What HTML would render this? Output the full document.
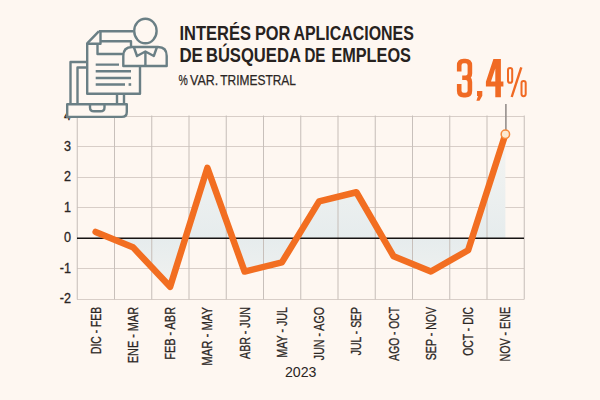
<!DOCTYPE html>
<html><head><meta charset="utf-8"><style>
html,body{margin:0;padding:0;background:#FEF7F1;}
svg{display:block;font-family:"Liberation Sans",sans-serif;}
</style></head><body>
<svg width="600" height="400" viewBox="0 0 600 400">
<rect width="600" height="400" fill="#FEF7F1"/>
<g stroke="#D8CEC8" stroke-width="1"><line x1="77" y1="116.5" x2="524" y2="116.5" /><line x1="77" y1="146.5" x2="524" y2="146.5" /><line x1="77" y1="177.5" x2="524" y2="177.5" /><line x1="77" y1="207.5" x2="524" y2="207.5" /><line x1="77" y1="268.5" x2="524" y2="268.5" /><line x1="77" y1="299.5" x2="524" y2="299.5" /></g>
<defs><linearGradient id="gf" gradientUnits="userSpaceOnUse" x1="0" y1="116" x2="0" y2="299">
<stop offset="0" stop-color="#F7F6F3"/><stop offset="0.667" stop-color="#E6ECED"/><stop offset="1" stop-color="#F3F3F0"/></linearGradient></defs>
<path d="M95.62 238 L95.62 231.9 L132.88 247.15 L170.12 286.8 L207.38 167.85 L244.62 271.55 L281.88 262.4 L319.12 201.4 L356.38 192.25 L393.62 256.3 L430.88 271.55 L468.12 250.2 L505.38 134.3 L505.38 238 Z" fill="url(#gf)"/>
<g stroke="#C8C0BB" stroke-width="1.05"><line x1="77.25" y1="115.5" x2="77.25" y2="299.5" /><line x1="114.5" y1="115.5" x2="114.5" y2="299.5" /><line x1="151.75" y1="115.5" x2="151.75" y2="299.5" /><line x1="189" y1="115.5" x2="189" y2="299.5" /><line x1="226.25" y1="115.5" x2="226.25" y2="299.5" /><line x1="263.5" y1="115.5" x2="263.5" y2="299.5" /><line x1="300.75" y1="115.5" x2="300.75" y2="299.5" /><line x1="338" y1="115.5" x2="338" y2="299.5" /><line x1="375.25" y1="115.5" x2="375.25" y2="299.5" /><line x1="412.5" y1="115.5" x2="412.5" y2="299.5" /><line x1="449.75" y1="115.5" x2="449.75" y2="299.5" /><line x1="487" y1="115.5" x2="487" y2="299.5" /><line x1="524.25" y1="115.5" x2="524.25" y2="299.5" /></g>
<line x1="77" y1="238.25" x2="524" y2="238.25" stroke="#161312" stroke-width="1.5"/>
<g font-size="14" fill="#2B2624" stroke="#2B2624" stroke-width="0.3"><text transform="translate(71,120) scale(0.9,1)" text-anchor="end">4</text><text transform="translate(71,150.5) scale(0.9,1)" text-anchor="end">3</text><text transform="translate(71,181) scale(0.9,1)" text-anchor="end">2</text><text transform="translate(71,211.5) scale(0.9,1)" text-anchor="end">1</text><text transform="translate(71,242) scale(0.9,1)" text-anchor="end">0</text><text transform="translate(71,272.5) scale(0.9,1)" text-anchor="end">-1</text><text transform="translate(71,303) scale(0.9,1)" text-anchor="end">-2</text></g>
<g font-size="14" fill="#2B2624" stroke="#2B2624" stroke-width="0.3"><text transform="translate(100.62,307) rotate(-90)" text-anchor="end" textLength="46.95" lengthAdjust="spacingAndGlyphs">DIC - FEB</text><text transform="translate(137.88,307) rotate(-90)" text-anchor="end" textLength="56.2" lengthAdjust="spacingAndGlyphs">ENE - MAR</text><text transform="translate(175.12,307) rotate(-90)" text-anchor="end" textLength="52.7" lengthAdjust="spacingAndGlyphs">FEB - ABR</text><text transform="translate(212.38,307) rotate(-90)" text-anchor="end" textLength="58.7" lengthAdjust="spacingAndGlyphs">MAR - MAY</text><text transform="translate(249.62,307) rotate(-90)" text-anchor="end" textLength="51.95" lengthAdjust="spacingAndGlyphs">ABR - JUN</text><text transform="translate(286.88,307) rotate(-90)" text-anchor="end" textLength="50.7" lengthAdjust="spacingAndGlyphs">MAY - JUL</text><text transform="translate(324.12,307) rotate(-90)" text-anchor="end" textLength="53.2" lengthAdjust="spacingAndGlyphs">JUN - AGO</text><text transform="translate(361.38,307) rotate(-90)" text-anchor="end" textLength="48.2" lengthAdjust="spacingAndGlyphs">JUL - SEP</text><text transform="translate(398.62,307) rotate(-90)" text-anchor="end" textLength="53.7" lengthAdjust="spacingAndGlyphs">AGO - OCT</text><text transform="translate(435.88,307) rotate(-90)" text-anchor="end" textLength="53.2" lengthAdjust="spacingAndGlyphs">SEP - NOV</text><text transform="translate(473.12,307) rotate(-90)" text-anchor="end" textLength="48.7" lengthAdjust="spacingAndGlyphs">OCT - DIC</text><text transform="translate(510.38,307) rotate(-90)" text-anchor="end" textLength="54.45" lengthAdjust="spacingAndGlyphs">NOV - ENE</text></g>
<text x="285" y="377" font-size="14" fill="#2B2624" textLength="31.5" lengthAdjust="spacingAndGlyphs">2023</text>
<!-- icon -->
<g fill="none" stroke="#6A7F85" stroke-width="2.4" stroke-linejoin="round">
  <path d="M70.5 104 V62 H87"/>
  <path d="M77.5 103 V67.5 H87"/>
  <path d="M117 94 V103 M124 94 V103"/>
  <path d="M67.2 104.2 H126.8 V111.9 Q126.8 116.9 121.8 116.9 H67.2 Z" fill="#FEF7F1"/>
  <path d="M90 104.2 V107.5 Q90 111.3 94 111.3 H100.5 Q104.5 111.3 104.5 107.5 V104.2"/>
  <path d="M98.8 31.3 H133 M98.8 31.3 L87.2 43.3 V93.8 H140 V66"/>
  <path d="M100.5 31.3 V43.8 H87.5"/>
  <path d="M100.5 41.3 H131 V46"/>
  <path d="M97.5 44 V54 H123"/>
  <path d="M95.7 64.6 H119 M95.7 71.3 H131 M95.7 78 H131 M95.7 84.5 H125"/><path d="M128.6 83.2 H131.2 V85.8 H128.6 Z" fill="#6A7F85" stroke="none"/>
  <ellipse cx="145.4" cy="31" rx="11.2" ry="12.3" fill="#FEF7F1"/>
  <path d="M123.3 66 V56 Q123.3 47 132 47 H158 Q166.7 47 166.7 56 V66 Z" fill="#FEF7F1"/>
  <path d="M134 47.5 L137 56 L145.4 51.5 L153.8 56 L156.8 47.5 M145.4 53 V66"/>
</g>
<!-- line -->
<path d="M95.62 231.9 L132.88 247.15 L170.12 286.8 L207.38 167.85 L244.62 271.55 L281.88 262.4 L319.12 201.4 L356.38 192.25 L393.62 256.3 L430.88 271.55 L468.12 250.2 L505.38 134.3" fill="none" stroke="#F26E21" stroke-width="6.5" stroke-linejoin="round" stroke-linecap="round"/>
<line x1="505.9" y1="104" x2="505.9" y2="131" stroke="#8E8885" stroke-width="1.5"/>
<circle cx="505.38" cy="134.3" r="4.2" fill="#FCEAD2" stroke="#F58A3C" stroke-width="1.5"/>
<!-- title -->
<g font-size="19.6" font-weight="bold" fill="#272220"><text x="179.4" y="39.75" textLength="71.5" lengthAdjust="spacingAndGlyphs">INTERÉS</text><text x="254.9" y="39.75" textLength="35.5" lengthAdjust="spacingAndGlyphs">POR</text><text x="293.4" y="39.75" textLength="120.5" lengthAdjust="spacingAndGlyphs">APLICACIONES</text><text x="179.4" y="62.25" textLength="23.5" lengthAdjust="spacingAndGlyphs">DE</text><text x="205.9" y="62.25" textLength="95" lengthAdjust="spacingAndGlyphs">BÚSQUEDA</text><text x="304.4" y="62.25" textLength="21" lengthAdjust="spacingAndGlyphs">DE</text><text x="331.4" y="62.25" textLength="79.5" lengthAdjust="spacingAndGlyphs">EMPLEOS</text></g>
<g font-size="14.2" fill="#2B2624" stroke="#2B2624" stroke-width="0.25"><text x="178.4" y="84.6" textLength="9.3" lengthAdjust="spacingAndGlyphs">%</text><text x="190.1" y="84.6" textLength="28.1" lengthAdjust="spacingAndGlyphs">VAR.</text><text x="220.3" y="84.6" textLength="75.7" lengthAdjust="spacingAndGlyphs">TRIMESTRAL</text></g>
<g fill="none" stroke="#F06A24">
<path d="M459.2 71.6 V65.4 Q459.2 61 463.6 61 H465.5 Q469.9 61 469.9 65.4 V73.5 Q469.9 77.75 465.6 77.75 H462.2 M465.6 77.75 Q469.9 77.75 469.9 82 V90.7 Q469.9 95.1 465.5 95.1 H463.6 Q459.2 95.1 459.2 90.7 V84" stroke-width="4.6"/>
<path d="M493.4 59 H500.9 V81.6 H503.4 V86.6 H500.9 V97.3 H495.3 V86.6 H485.9 V81.8 Z M495.3 68.5 V81.6 H491 Z" fill="#F06A24" fill-rule="evenodd" stroke="none"/>
<path d="M477 91 H482.3 V95.8 L479.5 100.8 H476.4 L478 96 H477 Z" fill="#F06A24" stroke="none"/>
<rect x="508" y="68" width="4.2" height="14.8" rx="2.1" stroke-width="2"/>
<rect x="521.5" y="81" width="4.2" height="15.2" rx="2.1" stroke-width="2"/>
<line x1="521.3" y1="67.3" x2="511.7" y2="97" stroke-width="2.4"/>
</g>

</svg>
</body></html>
